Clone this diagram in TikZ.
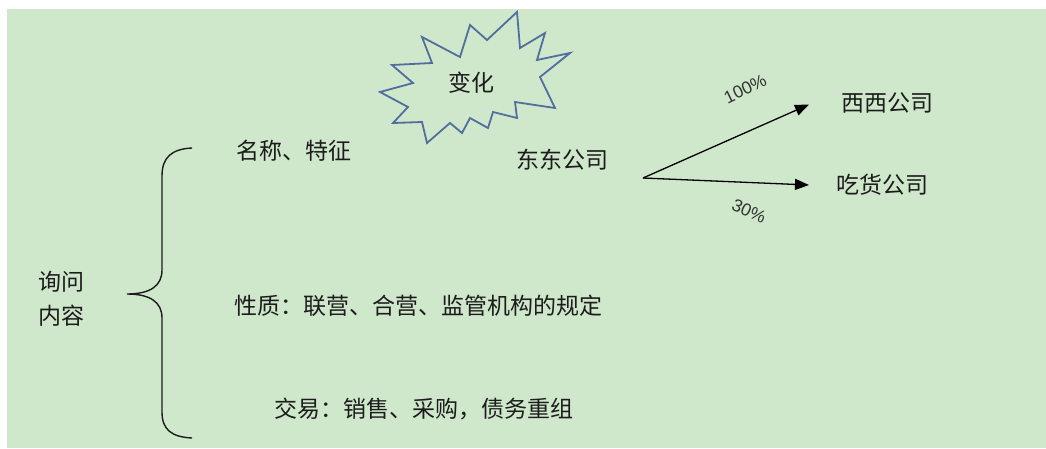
\documentclass[tikz,border=0pt]{standalone}
\usepackage{fontspec}
\setmainfont{Noto Sans CJK SC}
\newfontfamily\pctfont{Liberation Sans}
\usetikzlibrary{arrows.meta}
\definecolor{bg}{RGB}{207,231,203}
\definecolor{burstc}{RGB}{82,110,158}
\definecolor{ink}{RGB}{28,28,28}
\definecolor{pct}{RGB}{50,50,50}
\begin{document}
\begin{tikzpicture}[x=1pt,y=-1pt,
  lbl/.style={anchor=base west, inner sep=0pt, font=\fontsize{23}{23}\selectfont, text=ink},
  pctlbl/.style={inner sep=0pt, font=\pctfont\fontsize{17.5}{17.5}\selectfont, text=pct},
  arr/.style={draw=black, line width=1.3pt, -{Triangle[length=14pt,width=11pt]}},
  bracec/.style={draw=ink, line width=1.4pt},
  burstline/.style={draw=burstc, line width=1.8pt, line join=miter}]
\useasboundingbox (0,0) rectangle (1046,448);
\fill[white] (0,0) rectangle (1046,448);
\fill[bg] (7,9) rectangle (1046,448);
% burst
\draw[burstline] (517,12) -- (520,48) -- (545,33) -- (537,60) -- (570,53) -- (540,77)
  -- (555,108) -- (515,102) -- (517,118) -- (493,112) -- (488,128) -- (470,118)
  -- (462,133) -- (450,123) -- (427,143) -- (422,122) -- (393,123) -- (408,107)
  -- (380,92) -- (413,83) -- (392,65) -- (432,63) -- (422,37) -- (460,57)
  -- (470,25) -- (487,40) -- cycle;
\node[lbl] (bianhua) at (448,91.5) {变化};
% brace
\draw[bracec] (192,148) .. controls (172,149) and (162,157) .. (162,176) -- (162,270)
  .. controls (162,286) and (150,294) .. (127,294)
  .. controls (150,294) and (162,302) .. (162,318) -- (162,412)
  .. controls (162,430) and (172,437) .. (192,438);
\node[lbl] (xunwen) at (38,290) {询问};
\node[lbl] (neirong) at (38,324) {内容};
% items
\node[lbl] (mingcheng) at (236,159.5) {名称、特征};
\node[lbl] (dongdong) at (516,168) {东东公司};
\node[lbl] (xingzhi) at (234,314) {性质：联营、合营、监管机构的规定};
\node[lbl] (jiaoyi) at (274,417) {交易：销售、采购，债务重组};
\node[lbl] (xixi) at (841,111) {西西公司};
\node[lbl] (chihuo) at (836,193) {吃货公司};
% arrows
\coordinate (o) at (643,178);
\coordinate (t1) at (809,104.5);
\coordinate (t2) at (809,185);
\draw[arr] (o) -- (t1);
\draw[arr] (o) -- (t2);
\node[pctlbl, rotate=26] (p100) at (745,89) {100\%};
\node[pctlbl, rotate=-24] (p30) at (749,211) {30\%};
\end{tikzpicture}
\end{document}
